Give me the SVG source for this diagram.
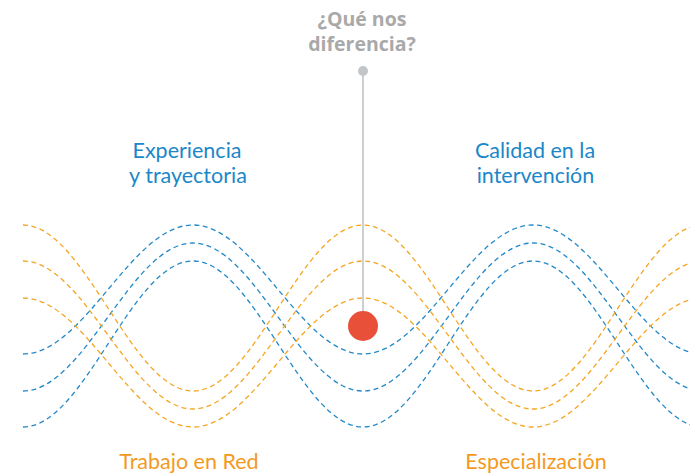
<svg xmlns="http://www.w3.org/2000/svg" width="690" height="474" viewBox="0 0 690 474">
<style>
.wave{fill:none;stroke-width:1.3;stroke-dasharray:5 3.5}
.b{stroke:#2389c9}
.o{stroke:#f5a623}
.lbl{font-family:Lato,"Liberation Sans",sans-serif;font-size:21.5px;text-anchor:middle}
.lb{fill:#1b87c8}
.lo{fill:#f39a1e}
.title{font-family:"Open Sans","Liberation Sans",sans-serif;font-size:19.5px;font-weight:700;fill:#a9a9a9;text-anchor:middle}
</style>
<rect width="690" height="474" fill="#ffffff"/>
<g id="connectors">
<path class="wave b" d="M23,354 C84.8,354 131.2,225 193,225 S301.2,354 363,354 S471.2,225 533,225 S641.2,354 703,354"/>
<path class="wave b" d="M23,391 C84.8,391 131.2,243 193,243 S301.2,391 363,391 S471.2,243 533,243 S641.2,391 703,391"/>
<path class="wave b" d="M23,427 C84.8,427 131.2,261 193,261 S301.2,427 363,427 S471.2,261 533,261 S641.2,427 703,427"/>
<path class="wave o" d="M23,225 C84.8,225 131.2,391 193,391 S301.2,225 363,225 S471.2,391 533,391 S641.2,225 703,225"/>
<path class="wave o" d="M23,261 C84.8,261 131.2,409 193,409 S301.2,261 363,261 S471.2,409 533,409 S641.2,261 703,261"/>
<path class="wave o" d="M23,298 C84.8,298 131.2,427 193,427 S301.2,298 363,298 S471.2,427 533,427 S641.2,298 703,298"/>
<line x1="363" y1="71" x2="363" y2="320" stroke="#ccd0d4" stroke-width="2"/>
</g>
<g id="title">
<text class="title" x="362" y="26">¿Qué nos</text>
<text class="title" x="362" y="51">diferencia?</text>
<circle cx="363" cy="71" r="5" fill="#c3c6c9"/>
</g>
<g id="center-dot">
<circle cx="363" cy="326" r="15" fill="#e9503a"/>
</g>
<g id="experiencia">
<text class="lbl lb" x="187" y="158">Experiencia</text>
<text class="lbl lb" x="188" y="183">y trayectoria</text>
</g>
<g id="calidad">
<text class="lbl lb" x="535" y="158">Calidad en la</text>
<text class="lbl lb" x="535.5" y="183">intervención</text>
</g>
<g id="trabajo">
<text class="lbl lo" x="189" y="469">Trabajo en Red</text>
</g>
<g id="especializacion">
<text class="lbl lo" x="536" y="469">Especialización</text>
</g>
</svg>
